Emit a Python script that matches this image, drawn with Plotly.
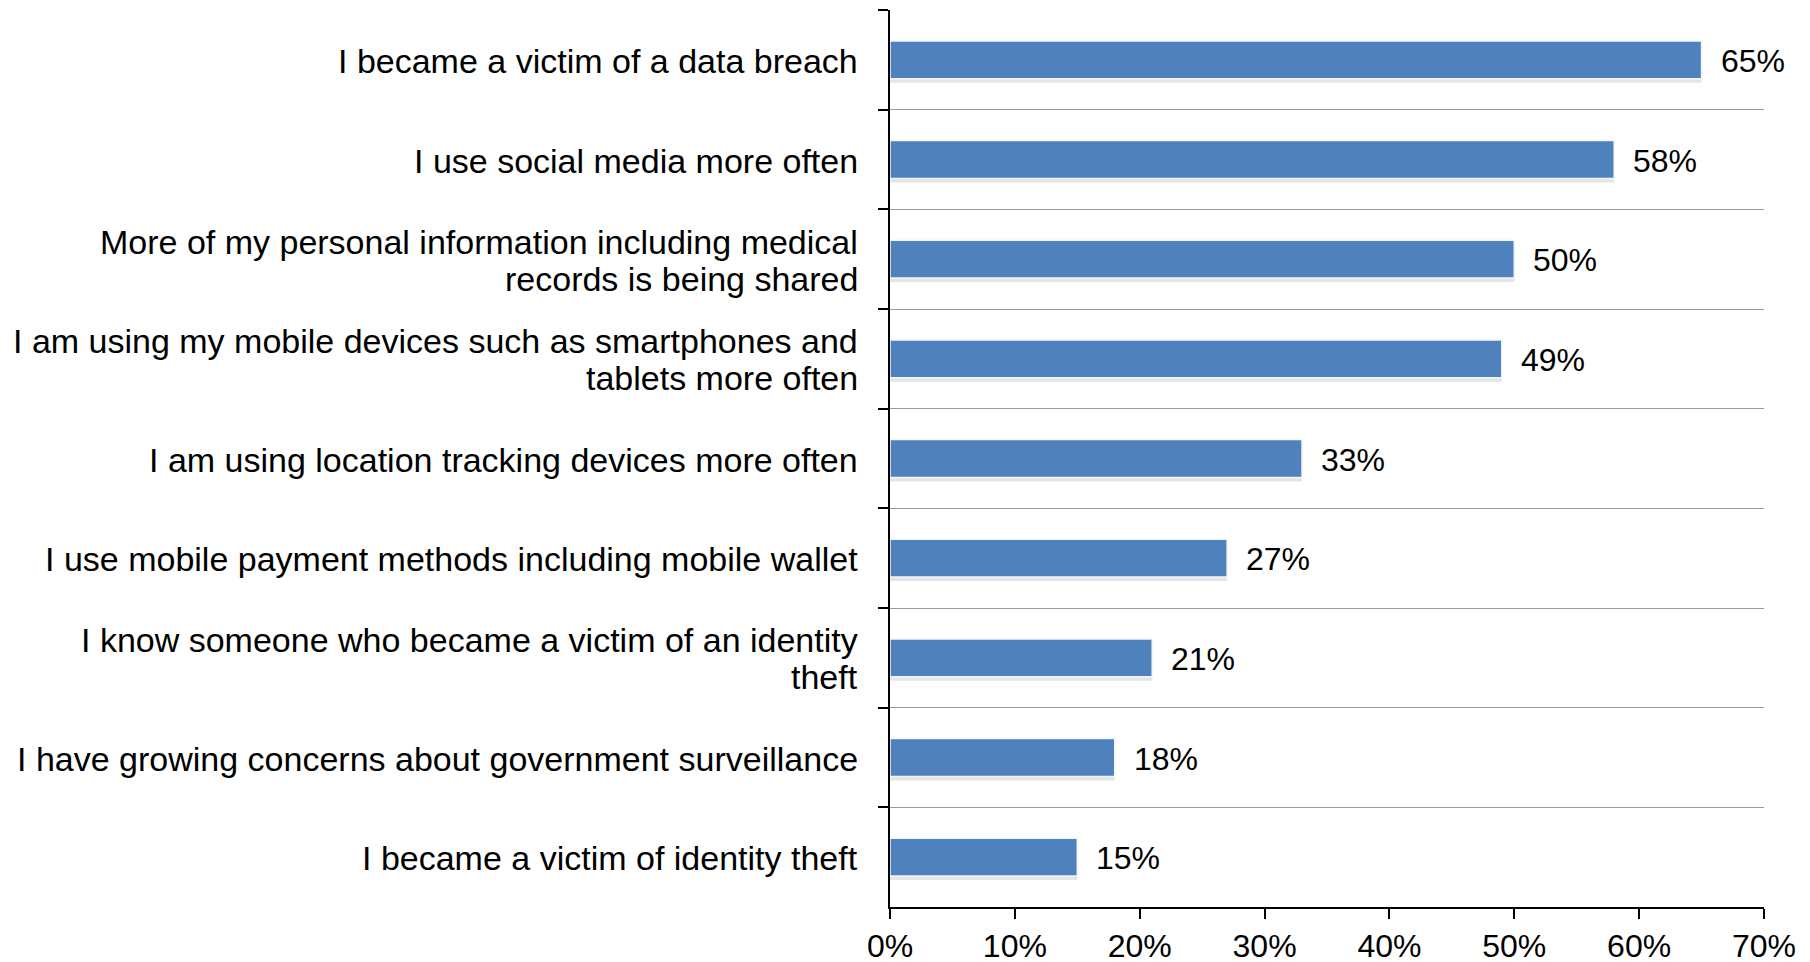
import plotly.graph_objects as go

# Survey responses (share of respondents); "\n" marks a line break in the label
reasons = [
    "I became a victim of a data breach",
    "I use social media more often",
    "More of my personal information including medical\nrecords is being shared",
    "I am using my mobile devices such as smartphones and\ntablets more often",
    "I am using location tracking devices more often",
    "I use mobile payment methods including mobile wallet",
    "I know someone who became a victim of an identity\ntheft",
    "I have growing concerns about government surveillance",
    "I became a victim of identity theft",
]
shares = [65, 58, 50, 49, 33, 27, 21, 18, 15]

x_ticks = [0, 10, 20, 30, 40, 50, 60, 70]
x_tick_labels = ["0%", "10%", "20%", "30%", "40%", "50%", "60%", "70%"]

FONT = "Liberation Sans, Arial, sans-serif"
FS = 34            # category labels
FS_NUM = 32        # value labels and axis numbers
LINE_GAP = 37      # px between baselines of a wrapped category label
BAR_W = 0.38

fig = go.Figure()

# soft drop shadow under each bar
fig.add_trace(go.Bar(
    y=reasons, x=shares, orientation="h",
    width=BAR_W, offset=-BAR_W / 2 + 0.04,
    marker=dict(color="rgba(0,0,0,0.10)", line=dict(width=0)),
    hoverinfo="skip", showlegend=False,
))
fig.add_trace(go.Bar(
    y=reasons, x=shares, orientation="h",
    width=BAR_W, offset=-BAR_W / 2,
    marker=dict(color="#4F81BD", line=dict(color="#F2F6FB", width=1.5)),
    showlegend=False,
))

# value labels to the right of the bars
for r, v in zip(reasons, shares):
    fig.add_annotation(
        x=v, y=r, xref="x", yref="y", text=f"{v}%",
        showarrow=False, xanchor="left", yanchor="middle", xshift=17, yshift=-1,
        font=dict(family=FONT, size=FS_NUM, color="#000000"),
    )

# category labels, right-aligned against the vertical axis, tight line spacing
for r in reasons:
    lines = r.split("\n")
    n = len(lines)
    for i, line in enumerate(lines):
        fig.add_annotation(
            x=0, y=r, xref="paper", yref="y", text=line,
            showarrow=False, xanchor="right", yanchor="middle",
            xshift=-30, yshift=((n - 1) / 2 - i) * LINE_GAP - 1,
            font=dict(family=FONT, size=FS, color="#000000"),
        )

fig.update_layout(
    width=1810, height=962,
    margin=dict(l=890, r=46, t=10, b=55),
    paper_bgcolor="white", plot_bgcolor="white",
    barmode="overlay",
    font=dict(family=FONT, size=FS, color="#000000"),
)
fig.update_xaxes(
    range=[0, 70], tickvals=x_ticks, ticktext=x_tick_labels,
    showgrid=False, zeroline=False, automargin=False,
    showline=True, linecolor="#000000", linewidth=2,
    ticks="outside", ticklen=10, tickwidth=2, tickcolor="#000000",
    ticklabelstandoff=0,
    tickfont=dict(family=FONT, size=FS_NUM),
)
fig.update_yaxes(
    type="category", autorange="reversed", tickson="boundaries",
    showticklabels=False, automargin=False,
    showgrid=True, gridcolor="#9A9A9A", gridwidth=1.2,
    showline=True, linecolor="#000000", linewidth=2,
    ticks="outside", ticklen=10, tickwidth=2, tickcolor="#000000",
)

fig.write_html("out.html")
